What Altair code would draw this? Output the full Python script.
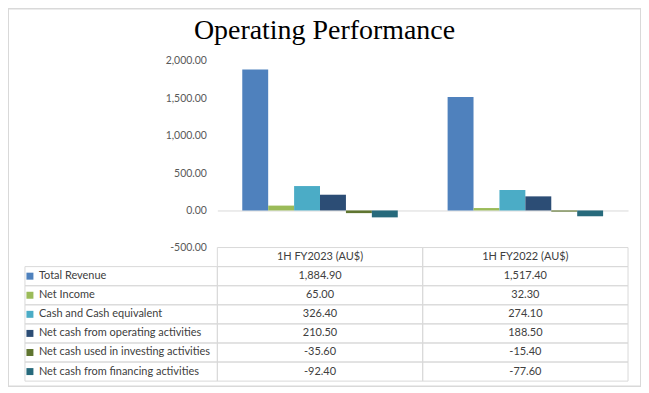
import altair as alt
import pandas as pd

# ---------------- data ----------------
title_text = "Operating Performance"
metrics = [
    "Total Revenue",
    "Net Income",
    "Cash and Cash equivalent",
    "Net cash from operating activities",
    "Net cash used in investing activities",
    "Net cash from financing activities",
]
periods = ["1H FY2023 (AU$)", "1H FY2022 (AU$)"]
fy2023 = [1884.90, 65.00, 326.40, 210.50, -35.60, -92.40]
fy2022 = [1517.40, 32.30, 274.10, 188.50, -15.40, -77.60]
y_ticks = [-500, 0, 500, 1000, 1500, 2000]
colors = ["#4F81BD", "#9BBB59", "#4BACC6", "#2C4D75", "#5F7530", "#276A7C"]

HEADER = "header"
rows = [HEADER] + metrics

long_df = pd.DataFrame({
    "metric": metrics + metrics,
    "period": [periods[0]] * len(metrics) + [periods[1]] * len(metrics),
    "value": fy2023 + fy2022,
})
head_df = pd.DataFrame({"period": periods, "row": [HEADER] * len(periods)})
label_df = pd.DataFrame({"metric": metrics, "col": ["label"] * len(metrics)})

# ---------------- layout ----------------
W, H = 635, 379
PX0, PX1 = 210, 622          # plot / value-column range
Y_TOP, Y_BOT = 52.5, 240     # value axis range (2000 .. -500)
ROW_TOP, ROW_BOT = 239.7, 373.7
LAB_X0 = 17
y_min, y_max = -500, 2000
zero_y = Y_BOT - (0 - y_min) / (y_max - y_min) * (Y_BOT - Y_TOP)

FONT = "Lato"
GRID = "#d9d9d9"
TXT = "#404040"

color_enc = alt.Color("metric:N", scale=alt.Scale(domain=metrics, range=colors), legend=None)

# ---------------- bars ----------------
bars = alt.Chart(long_df).mark_bar().encode(
    x=alt.X("period:N", sort=periods,
            scale=alt.Scale(domain=periods, range=[PX0, PX1], paddingInner=0.2427, paddingOuter=0.1214),
            axis=alt.Axis(title=None, labels=False, ticks=False, grid=False, domain=True,
                          domainColor=GRID, domainWidth=1, orient="bottom", offset=-(H - zero_y))),
    xOffset=alt.XOffset("metric:N", sort=metrics,
                        scale=alt.Scale(domain=metrics, paddingInner=0, paddingOuter=0)),
    y=alt.Y("value:Q",
            scale=alt.Scale(domain=[y_min, y_max], range=[Y_BOT, Y_TOP], nice=False, zero=False),
            axis=alt.Axis(title=None, values=y_ticks, format=",.2f", orient="left", offset=-PX0,
                          labelPadding=11, ticks=False, domain=False, grid=False,
                          labelFont=FONT, labelFontSize=10.5, labelColor="#595959")),
    color=color_enc,
)

# ---------------- data table: value columns ----------------
def x_tab():
    return alt.X("period:N", sort=periods,
                 scale=alt.Scale(domain=periods, range=[PX0, PX1], paddingInner=0, paddingOuter=0),
                 axis=None)


def y_tab(field):
    return alt.Y(f"{field}:N", sort=rows,
                 scale=alt.Scale(domain=rows, range=[ROW_TOP, ROW_BOT], paddingInner=0, paddingOuter=0),
                 axis=None)


cell_rect = alt.Chart(long_df).mark_rect(fillOpacity=0, stroke=GRID, strokeWidth=1).encode(
    x=x_tab(), y=y_tab("metric"))
cell_text = alt.Chart(long_df).mark_text(font=FONT, fontSize=11, color=TXT).encode(
    x=x_tab(), y=y_tab("metric"), text=alt.Text("value:Q", format=",.2f"))
head_rect = alt.Chart(head_df).mark_rect(fillOpacity=0, stroke=GRID, strokeWidth=1).encode(
    x=x_tab(), y=y_tab("row"))
head_text = alt.Chart(head_df).mark_text(font=FONT, fontSize=11, color=TXT).encode(
    x=x_tab(), y=y_tab("row"), text="period:N")

table = alt.layer(cell_rect, head_rect, cell_text, head_text)

# ---------------- data table: label column ----------------
def x_lab(band=None):
    kw = {}
    if band is not None:
        kw["bandPosition"] = band
    return alt.X("col:N",
                 scale=alt.Scale(domain=["label"], range=[LAB_X0, PX0], paddingInner=0, paddingOuter=0),
                 axis=None, **kw)


lab_rect = alt.Chart(label_df).mark_rect(fillOpacity=0, stroke=GRID, strokeWidth=1).encode(
    x=x_lab(), y=y_tab("metric"))
lab_key = alt.Chart(label_df).mark_square(size=49, opacity=1, xOffset=5).encode(
    x=x_lab(0), y=y_tab("metric"), color=color_enc)
lab_text = alt.Chart(label_df).mark_text(align="left", dx=14, font=FONT, fontSize=11, color=TXT).encode(
    x=x_lab(0), y=y_tab("metric"), text="metric:N")

labels = alt.layer(lab_rect, lab_key, lab_text)

chart = alt.layer(bars, table, labels).resolve_scale(
    x="independent", y="independent"
).properties(
    width=W, height=H, padding=0,
    title=alt.TitleParams(title_text, font="Liberation Serif", fontSize=28, fontWeight="normal",
                          color="#000000", anchor="middle", offset=-36),
).configure(
    locale=alt.Locale(number=alt.NumberLocale(decimal=".", thousands=",", grouping=[3],
                                              currency=["$", ""], minus="-"))
).configure_view(stroke=GRID, strokeWidth=2)

chart.save("out.html", embed_options={"renderer": "svg", "actions": False})
